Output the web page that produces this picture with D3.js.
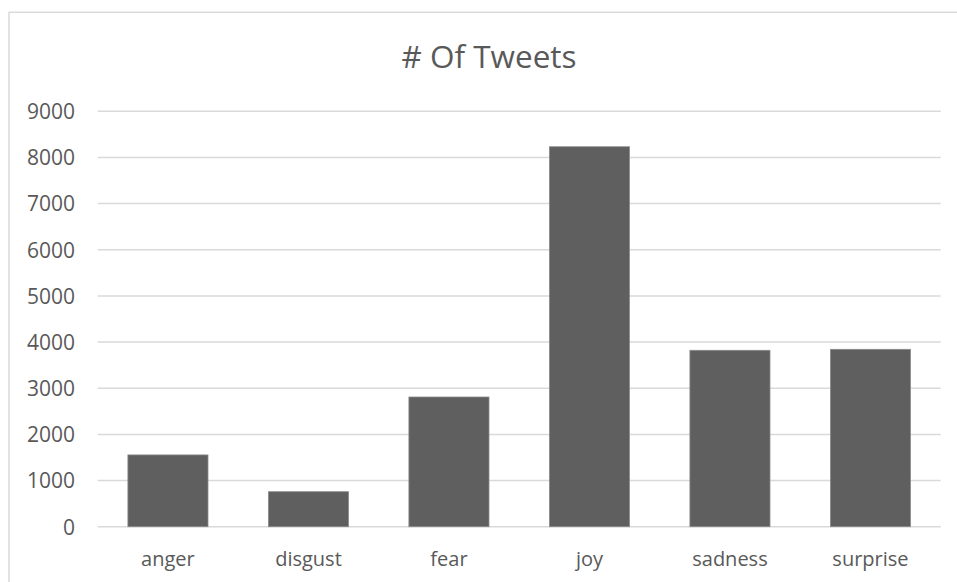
<!DOCTYPE html>
<html>
<head>
<meta charset="utf-8">
<script src="https://cdn.jsdelivr.net/npm/d3@7"></script>
<style>
  html, body { margin: 0; padding: 0; background: #fff; }
  svg { display: block; }
  text { font-family: "Open Sans", "Noto Sans", sans-serif; fill: #595959; }
</style>
</head>
<body>
<script>
const title = "# Of Tweets";
const categories = ["anger", "disgust", "fear", "joy", "sadness", "surprise"];
const values = [1555, 758, 2810, 8232, 3822, 3843];
const yTicks = [0, 1000, 2000, 3000, 4000, 5000, 6000, 7000, 8000, 9000];

const W = 957, H = 582;
const svg = d3.select("body").append("svg").attr("width", W).attr("height", H);

// chart frame
svg.append("rect")
  .attr("x", 9).attr("y", 12.3)
  .attr("width", W + 20).attr("height", H + 20)
  .attr("fill", "#fff").attr("stroke", "#d9d9d9").attr("stroke-width", 1.5);

const plot = { left: 97.7, right: 940.7, top: 111.3, bottom: 526.7 };

const x = d3.scaleBand().domain(categories)
  .range([plot.left, plot.right])
  .paddingInner(0.43).paddingOuter(0.215);

const y = d3.scaleLinear().domain([0, 9000]).range([plot.bottom, plot.top]);

// gridlines
svg.append("g").selectAll("line").data(yTicks).join("line")
  .attr("x1", plot.left).attr("x2", plot.right)
  .attr("y1", d => y(d)).attr("y2", d => y(d))
  .attr("stroke", "#d9d9d9").attr("stroke-width", 1.5);

// y axis labels
const yAxis = d3.axisLeft(y).tickValues(yTicks).tickSize(0).tickPadding(0).tickFormat(d3.format("d"));
const gy = svg.append("g").attr("transform", "translate(75,0)").call(yAxis);
gy.select(".domain").remove();
gy.selectAll("text")
  .style("font-family", '"Open Sans", sans-serif')
  .attr("font-size", 21).attr("fill", "#595959").attr("dy", "0.35em");

// bars
svg.append("g").selectAll("rect").data(categories).join("rect")
  .attr("x", d => x(d))
  .attr("width", x.bandwidth())
  .attr("y", (d, i) => y(values[i]))
  .attr("height", (d, i) => y(0) - y(values[i]))
  .attr("fill", "#5f5f5f")
  .attr("stroke", "#8a8a8a").attr("stroke-width", 0.8);

// x axis labels
const xAxis = d3.axisBottom(x).tickSize(0).tickPadding(0);
const gx = svg.append("g").attr("transform", `translate(0,565.5)`).call(xAxis);
gx.select(".domain").remove();
gx.selectAll("text")
  .style("font-family", '"Open Sans", sans-serif')
  .attr("font-size", 20).attr("fill", "#595959").attr("dy", 0).attr("y", 0);

// title
svg.append("text")
  .attr("x", 489).attr("y", 67.7)
  .attr("text-anchor", "middle")
  .attr("font-size", 31.5)
  .text(title);
</script>
</body>
</html>
